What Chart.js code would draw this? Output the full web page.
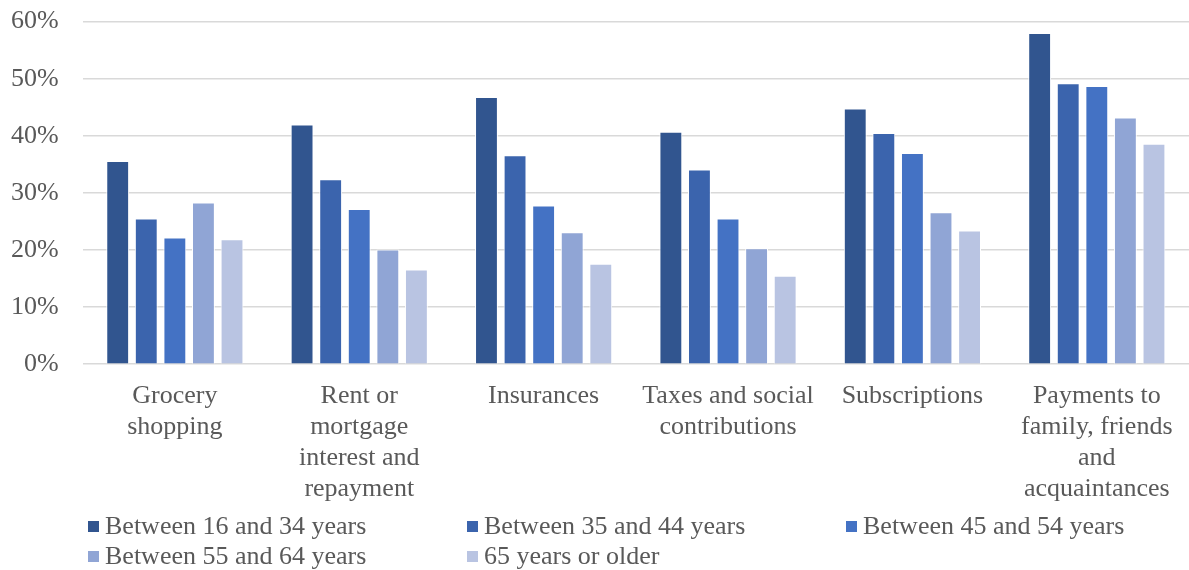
<!DOCTYPE html>
<html>
<head>
<meta charset="utf-8">
<script src="https://cdn.jsdelivr.net/npm/chart.js@4.4.1/dist/chart.umd.min.js"></script>
<style>
  html, body { margin: 0; padding: 0; background: #fff; overflow: hidden; }
  #wrap { position: relative; width: 1189px; height: 570px; overflow: hidden; }
  #chartBox { position: absolute; left: -24px; top: -18px; width: 1213px; height: 539px; }
  #legend { position: absolute; left: 88px; top: 511px; width: 1100px;
    display: grid; grid-template-columns: 379px 379px 379px; grid-auto-rows: 30px;
    font-family: "Liberation Serif", "Times New Roman", serif; font-size: 26px; color: #595959; }
  .item { display: flex; align-items: center; white-space: nowrap; }
  .sw { width: 11px; height: 11px; margin-right: 6px; flex: none; }
</style>
</head>
<body>
<div id="wrap">
  <div id="chartBox"><canvas id="c"></canvas></div>
  <div id="legend"></div>
</div>
<script>
const categories = [
  ["Grocery", "shopping"],
  ["Rent or", "mortgage", "interest and", "repayment"],
  ["Insurances"],
  ["Taxes and social", "contributions"],
  ["Subscriptions"],
  ["Payments to", "family, friends", "and", "acquaintances"]
];
const seriesNames = [
  "Between 16 and 34 years",
  "Between 35 and 44 years",
  "Between 45 and 54 years",
  "Between 55 and 64 years",
  "65 years or older"
];
const age16to34 = [35.6, 42.0, 46.8, 40.7, 44.8, 58.0];
const age35to44 = [25.5, 32.4, 36.6, 34.1, 40.5, 49.2];
const age45to54 = [22.2, 27.2, 27.8, 25.5, 37.0, 48.7];
const age55to64 = [28.3, 20.1, 23.1, 20.3, 26.6, 43.2];
const age65plus = [21.9, 16.6, 17.6, 15.5, 23.4, 38.6];
const yTicks = [0, 10, 20, 30, 40, 50, 60];

const colors = ["#31558F", "#3B64AD", "#4472C4", "#90A5D5", "#B9C4E2"];
const seriesValues = [age16to34, age35to44, age45to54, age55to64, age65plus];

const font = { family: "'Liberation Serif', 'Times New Roman', serif", size: 26, lineHeight: 1.2 };

new Chart(document.getElementById('c'), {
  type: 'bar',
  data: {
    labels: categories,
    datasets: seriesNames.map((n, i) => ({
      label: n,
      data: seriesValues[i],
      backgroundColor: colors[i],
      borderColor: '#ffffff',
      borderWidth: 1,
      categoryPercentage: 0.775,
      barPercentage: 0.8
    }))
  },
  options: {
    responsive: true,
    maintainAspectRatio: false,
    animation: false,
    layout: { padding: { left: 11, right: 0, top: 6, bottom: 0 } },
    plugins: { legend: { display: false }, tooltip: { enabled: false } },
    scales: {
      x: {
        grid: { display: false, drawTicks: false },
        border: { display: false },
        ticks: { font: font, color: '#595959', padding: 16, maxRotation: 0, autoSkip: false }
      },
      y: {
        min: yTicks[0], max: yTicks[yTicks.length - 1],
        afterBuildTicks: (s) => { s.ticks = yTicks.map(v => ({ value: v })); },
        grid: { color: '#D9D9D9', lineWidth: 1.5, drawTicks: false },
        border: { display: false },
        ticks: { font: font, color: '#595959', padding: 24, callback: v => v + '%' }
      }
    }
  }
});

const lg = document.getElementById('legend');
seriesNames.forEach((n, i) => {
  const d = document.createElement('div');
  d.className = 'item';
  d.innerHTML = '<span class="sw" style="background:' + colors[i] + '"></span><span></span>';
  d.lastChild.textContent = n;
  lg.appendChild(d);
});
</script>
</body>
</html>
